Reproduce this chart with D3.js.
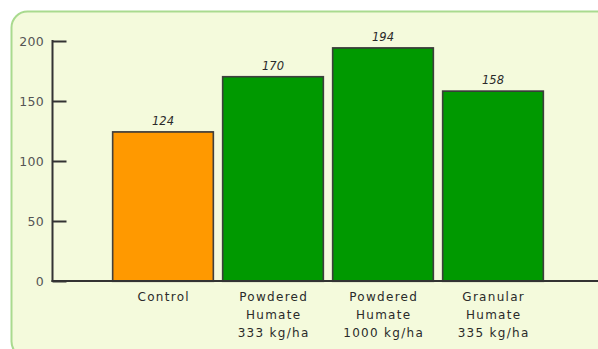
<!DOCTYPE html>
<html>
<head>
<meta charset="utf-8">
<script src="https://cdn.jsdelivr.net/npm/d3@7"></script>
<style>
  html, body { margin: 0; padding: 0; background: #ffffff; }
  svg { display: block; }
</style>
</head>
<body>
<svg id="chart" width="598" height="349"></svg>
<script>
// Yield by treatment
const categories = [
  ["Control"],
  ["Powdered", "Humate", "333 kg/ha"],
  ["Powdered", "Humate", "1000 kg/ha"],
  ["Granular", "Humate", "335 kg/ha"]
];
const values = [124, 170, 194, 158];
const barColors = ["#ff9900", "#009900", "#009900", "#009900"];
const yTicks = [0, 50, 100, 150, 200];

const svg = d3.select("#chart");
const W = 598, H = 349;
const font = "'DejaVu Sans', Verdana, sans-serif";

// Panel
svg.append("rect")
  .attr("x", 11.5).attr("y", 11.5)
  .attr("width", 604).attr("height", 346)
  .attr("rx", 16).attr("ry", 16)
  .attr("fill", "#f4fadc")
  .attr("stroke", "#a9da8f")
  .attr("stroke-width", 2);

const x0 = 52.5, yBase = 281;
const y = d3.scaleLinear().domain([0, 200]).range([yBase, 41]);
const x = d3.scaleBand()
  .domain(d3.range(values.length))
  .range([108, 548])
  .paddingInner(0.09)
  .paddingOuter(0.045);

// Soft shadow for bar outlines
const defs = svg.append("defs");
const f = defs.append("filter").attr("id", "soft").attr("x", "-10%").attr("y", "-10%").attr("width", "120%").attr("height", "120%");
f.append("feGaussianBlur").attr("stdDeviation", 0.6);

// Bars
const bars = svg.append("g");
bars.selectAll("rect.outline")
  .data(values)
  .join("rect")
  .attr("x", (d, i) => x(i))
  .attr("y", d => y(d))
  .attr("width", x.bandwidth())
  .attr("height", d => yBase - y(d))
  .attr("fill", "none")
  .attr("stroke", "#444")
  .attr("stroke-width", 2.2)
  .attr("filter", "url(#soft)");
bars.selectAll("rect.bar")
  .data(values)
  .join("rect")
  .attr("class", "bar")
  .attr("x", (d, i) => x(i))
  .attr("y", d => y(d))
  .attr("width", x.bandwidth())
  .attr("height", d => yBase - y(d))
  .attr("fill", (d, i) => barColors[i])
  .attr("stroke", "#3a3a3a")
  .attr("stroke-width", 1);

// Value labels
svg.append("g").selectAll("text")
  .data(values)
  .join("text")
  .attr("x", (d, i) => x(i) + x.bandwidth() / 2)
  .attr("y", d => y(d) - 7)
  .attr("text-anchor", "middle")
  .attr("font-family", font)
  .attr("font-style", "italic")
  .attr("font-size", 11.5)
  .attr("fill", "#2a2a2a")
  .text(d => d);

// Y axis
const yAxis = d3.axisRight(y).tickValues(yTicks).tickSize(14).tickFormat("");
const gy = svg.append("g").attr("transform", `translate(${x0},0)`).call(yAxis);
gy.select(".domain").remove();
gy.selectAll(".tick line").attr("stroke", "#333").attr("stroke-width", 2);
svg.append("line")
  .attr("x1", x0).attr("x2", x0)
  .attr("y1", y(200) - 1).attr("y2", yBase + 1)
  .attr("stroke", "#333").attr("stroke-width", 2);

// Y tick labels
svg.append("g").selectAll("text")
  .data(yTicks)
  .join("text")
  .attr("x", 44)
  .attr("y", d => y(d) + 4.5)
  .attr("text-anchor", "end")
  .attr("font-family", font)
  .attr("font-size", 12.5)
  .attr("letter-spacing", 0.3)
  .attr("fill", "#555")
  .text(d => d);

// Baseline
svg.append("line")
  .attr("x1", x0 - 1).attr("x2", W)
  .attr("y1", yBase).attr("y2", yBase)
  .attr("stroke", "#333").attr("stroke-width", 2);

// Category labels
const cat = svg.append("g").selectAll("text")
  .data(categories)
  .join("text")
  .attr("text-anchor", "middle")
  .attr("font-family", font)
  .attr("font-size", 12)
  .attr("letter-spacing", 1.3)
  .attr("fill", "#2a2a2a");
cat.each(function(lines, i) {
  const t = d3.select(this);
  lines.forEach((s, j) => {
    t.append("tspan")
      .attr("x", x(i) + x.bandwidth() / 2 + 0.7)
      .attr("y", 301 + j * 18)
      .text(s);
  });
});
</script>
</body>
</html>
